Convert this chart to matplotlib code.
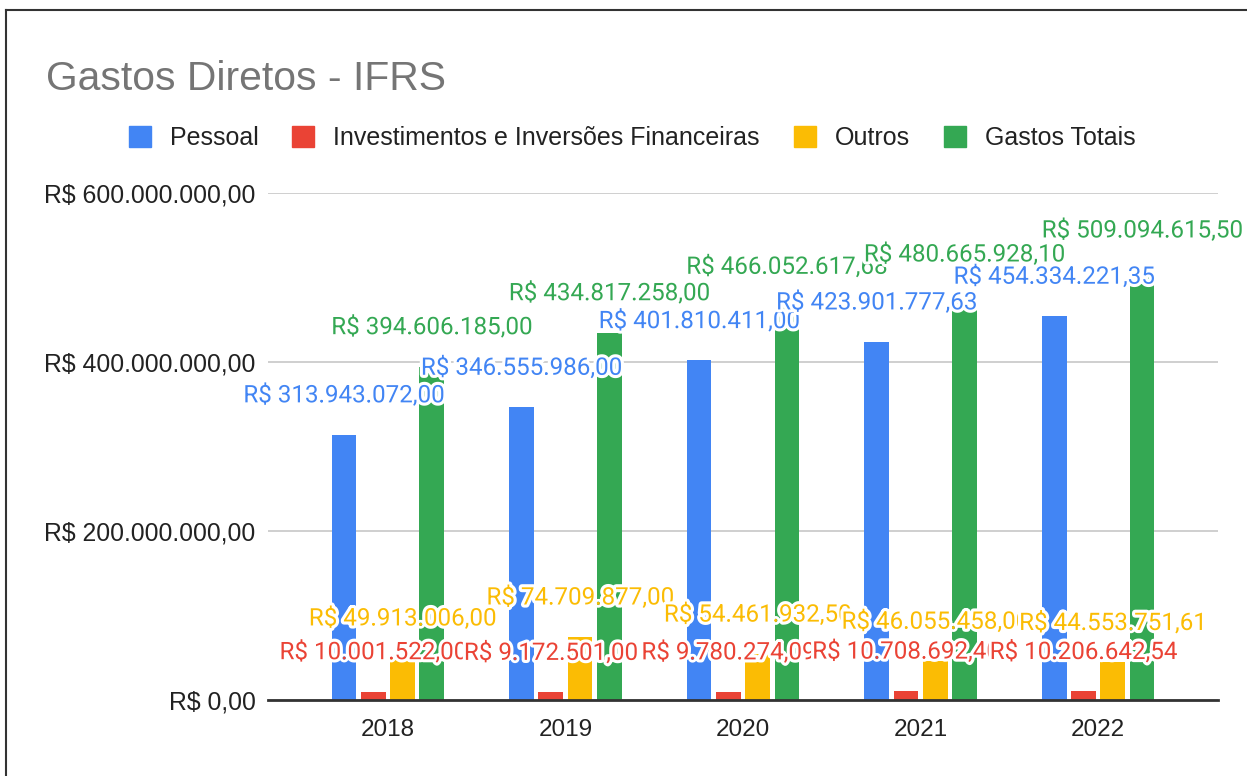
import matplotlib
matplotlib.use("Agg")
import matplotlib.pyplot as plt
import matplotlib.patheffects as pe
from matplotlib.lines import Line2D
from matplotlib.patches import Patch
import numpy as np

years = ["2018", "2019", "2020", "2021", "2022"]
series_names = ["Pessoal", "Investimentos e Inversões Financeiras", "Outros", "Gastos Totais"]
pessoal = [313943072.00, 346555986.00, 401810411.00, 423901777.63, 454334221.35]
investimentos = [10001522.00, 9172501.00, 9780274.09, 10708692.40, 10206642.54]
outros = [49913006.00, 74709877.00, 54461932.50, 46055458.00, 44553751.61]
gastos_totais = [394606185.00, 434817258.00, 466052617.68, 480665928.10, 509094615.50]
colors = ["#4285F4", "#EA4335", "#FBBC04", "#34A853"]


def brl(v):
    s = "{:,.2f}".format(v)
    s = s.replace(",", "X").replace(".", ",").replace("X", ".")
    return "R$ " + s


W, H = 1247, 776
fig = plt.figure(figsize=(W / 100, H / 100), dpi=100)
ax = fig.add_axes([268 / W, 1 - 700 / H, (1218 - 268) / W, (700 - 193) / H])

data = [pessoal, investimentos, outros, gastos_totais]
x = np.arange(len(years))
step = 0.165
width = 0.139

for k, vals in enumerate(data):
    ax.bar(x + (k - 1.5) * step, vals, width=width, color=colors[k], zorder=2)

# data labels with white halo, later ones drawn on top
z = 10
for i in range(len(years)):
    for k, vals in enumerate(data):
        ax.annotate(brl(vals[i]), (x[i] + (k - 1.5) * step, vals[i]),
                    xytext=(0, 28), textcoords="offset points",
                    ha="center", va="center", fontsize=17.4, family="Roboto",
                    color=colors[k], zorder=z, annotation_clip=False,
                    path_effects=[pe.withStroke(linewidth=4.5, foreground="white")])
        z += 1

ax.set_xlim(-0.675, 4.675)
ax.set_ylim(0, 600000000)
ax.set_yticks([0, 200000000, 400000000, 600000000])
ax.set_yticklabels([brl(v) for v in ax.get_yticks()], family="Liberation Sans",
                   fontsize=17.8, color="#222222")
ax.set_xticks(x)
ax.set_xticklabels(years, family="Liberation Sans", fontsize=17.5, color="#222222")
ax.tick_params(axis="both", length=0)
ax.tick_params(axis="y", pad=9)
ax.tick_params(axis="x", pad=14)
ax.grid(axis="y", color="#cccccc", linewidth=1.3, zorder=0)
ax.set_axisbelow(True)
for s in ["top", "right", "left"]:
    ax.spines[s].set_visible(False)
ax.spines["bottom"].set_color("#333333")
ax.spines["bottom"].set_linewidth(2)
ax.spines["bottom"].set_zorder(3)

fig.text(46 / W, 1 - 90 / H, "Gastos Diretos - IFRS", family="Liberation Sans",
         fontsize=29.4, color="#757575", va="baseline", ha="left")

handles = [Patch(facecolor=c, edgecolor=c) for c in colors]
fig.legend(handles, series_names, loc="center", bbox_to_anchor=(632 / W, 1 - 138 / H),
           ncol=4, frameon=False, prop={"family": "Liberation Sans", "size": 18},
           labelcolor="#222222", handlelength=0.88, handleheight=0.88,
           handletextpad=0.76, columnspacing=1.36)

# screenshot border
fig.add_artist(Line2D([6 / W, 1], [1 - 9.5 / H, 1 - 9.5 / H], color="#333333", lw=1.5))
fig.add_artist(Line2D([6 / W, 6 / W], [0, 1 - 9.5 / H], color="#333333", lw=1.5))

fig.savefig("out.png", dpi=100)
